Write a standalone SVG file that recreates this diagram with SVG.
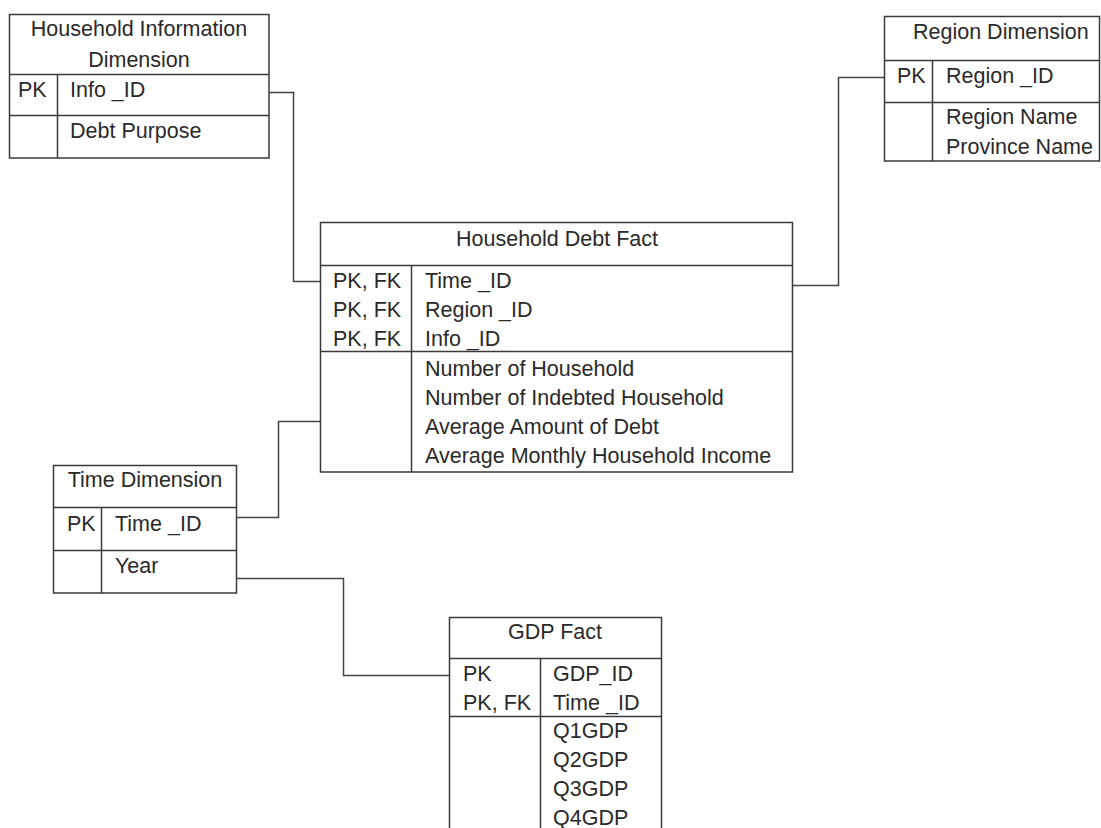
<svg xmlns="http://www.w3.org/2000/svg" width="1101" height="828" viewBox="0 0 1101 828">
  <style>
    .box { fill: #ffffff; stroke: #3a3a3a; stroke-width: 1.5; }
    .rule { stroke: #3a3a3a; stroke-width: 1.5; fill: none; }
    .link { stroke: #444444; stroke-width: 1.5; fill: none; }
    text { font-family: "Liberation Sans", Arial, sans-serif; font-size: 21.5px; fill: #2a2a2a; }
    .mid { text-anchor: middle; }
  </style>
  <rect width="1101" height="828" fill="#ffffff"/>

  <!-- relationship lines -->
  <g id="connectors">
    <path class="link" d="M269 92.5 H293.5 V281.5 H320.5"/>
    <path class="link" d="M792.5 285.5 H838.5 V77.5 H884.5"/>
    <path class="link" d="M236.5 517.5 H278.5 V421.5 H320.5"/>
    <path class="link" d="M236.5 578.5 H343.5 V675.5 H449.5"/>
  </g>

  <!-- Household Information Dimension -->
  <g id="household-info-dimension">
    <rect class="box" x="9.5" y="14.5" width="259.5" height="143.5"/>
    <path class="rule" d="M9.5 74.5 H269 M9.5 115.5 H269 M57.5 74.5 V158"/>
    <text class="mid" x="139" y="36">Household Information</text>
    <text class="mid" x="139" y="67">Dimension</text>
    <text x="18" y="97">PK</text>
    <text x="70" y="97">Info _ID</text>
    <text x="70" y="138">Debt Purpose</text>
  </g>

  <!-- Region Dimension -->
  <g id="region-dimension">
    <rect class="box" x="884.5" y="16.5" width="215" height="144.5"/>
    <path class="rule" d="M884.5 60.5 H1099.5 M884.5 102.5 H1099.5 M932.5 60.5 V161"/>
    <text x="913" y="39">Region Dimension</text>
    <text x="897" y="83">PK</text>
    <text x="946" y="83">Region _ID</text>
    <text x="946" y="124">Region Name</text>
    <text x="946" y="154">Province Name</text>
  </g>

  <!-- Household Debt Fact -->
  <g id="household-debt-fact">
    <rect class="box" x="320.5" y="222.5" width="472" height="249.5"/>
    <path class="rule" d="M320.5 265.5 H792.5 M320.5 351.5 H792.5 M411.5 265.5 V472"/>
    <text class="mid" x="557" y="246">Household Debt Fact</text>
    <text x="333" y="288">PK, FK</text>
    <text x="333" y="317">PK, FK</text>
    <text x="333" y="346">PK, FK</text>
    <text x="425" y="288">Time _ID</text>
    <text x="425" y="317">Region _ID</text>
    <text x="425" y="346">Info _ID</text>
    <text x="425" y="376">Number of Household</text>
    <text x="425" y="405">Number of Indebted Household</text>
    <text x="425" y="434">Average Amount of Debt</text>
    <text x="425" y="463">Average Monthly Household Income</text>
  </g>

  <!-- Time Dimension -->
  <g id="time-dimension">
    <rect class="box" x="53.5" y="465.5" width="183" height="127.5"/>
    <path class="rule" d="M53.5 507.5 H236.5 M53.5 550.5 H236.5 M101.5 507.5 V593"/>
    <text class="mid" x="145" y="487">Time Dimension</text>
    <text x="67" y="531">PK</text>
    <text x="115" y="531">Time _ID</text>
    <text x="115" y="573">Year</text>
  </g>

  <!-- GDP Fact (runs past the lower edge) -->
  <g id="gdp-fact">
    <rect class="box" x="449.5" y="617.5" width="212" height="230"/>
    <path class="rule" d="M449.5 658.5 H661.5 M449.5 716.5 H661.5 M540.5 658.5 V850"/>
    <text class="mid" x="555" y="639">GDP Fact</text>
    <text x="463" y="681">PK</text>
    <text x="463" y="710">PK, FK</text>
    <text x="553" y="681">GDP_ID</text>
    <text x="553" y="710">Time _ID</text>
    <text x="553" y="738">Q1GDP</text>
    <text x="553" y="767">Q2GDP</text>
    <text x="553" y="796">Q3GDP</text>
    <text x="553" y="825">Q4GDP</text>
  </g>
</svg>
